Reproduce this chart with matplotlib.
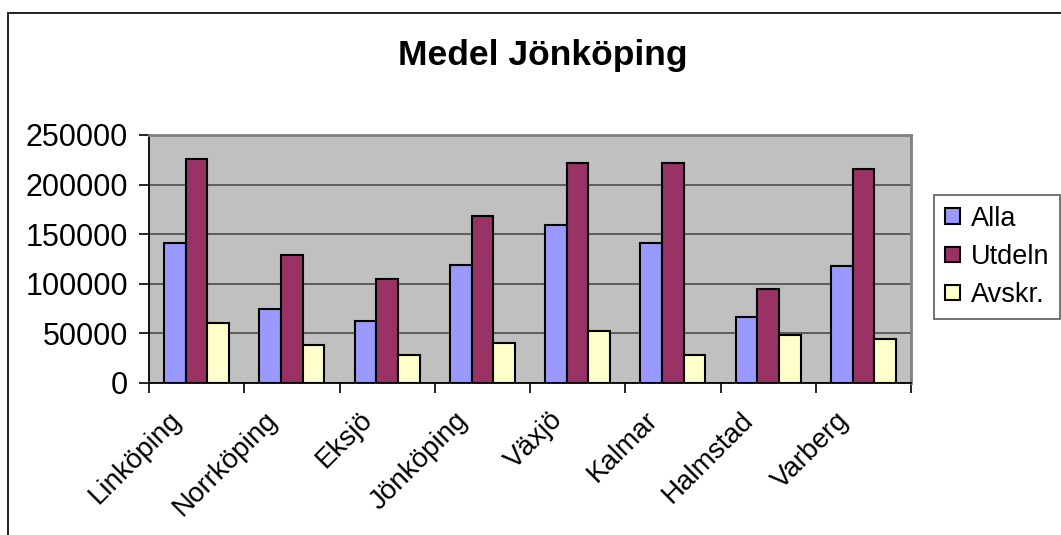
import matplotlib
matplotlib.use("Agg")
import matplotlib.pyplot as plt
import matplotlib.transforms as mtransforms
from matplotlib.patches import Rectangle
import numpy as np

plt.rcParams['font.family'] = ['Liberation Sans', 'DejaVu Sans']

categories = ["Linköping", "Norrköping", "Eksjö", "Jönköping", "Växjö", "Kalmar", "Halmstad", "Varberg"]
alla = [141000, 75000, 63000, 119000, 159500, 141000, 66500, 117500]
utdeln = [226000, 129000, 105000, 168000, 222000, 222000, 95000, 216000]
avskr = [60500, 38500, 28000, 40500, 52500, 28000, 48500, 44500]
series_names = ["Alla", "Utdeln", "Avskr."]
series_colors = ["#9999FF", "#993366", "#FFFFCC"]
yticks = [0, 50000, 100000, 150000, 200000, 250000]
title = "Medel Jönköping"

W, H = 1061, 535
fig = plt.figure(figsize=(W / 100, H / 100), dpi=100)
fig.patch.set_facecolor("white")

# outer chart border (only top & left visible)
fig.add_artist(Rectangle((8 / W, -0.5), 2.0, 1.5 - 12.5 / H, transform=fig.transFigure,
                         fill=False, edgecolor="#222222", linewidth=1.4))

ax = fig.add_axes([149 / W, 1 - 383 / H, (911 - 149) / W, (383 - 135) / H])
ax.set_facecolor("#C0C0C0")

x = np.arange(len(categories))
bw = 0.227
for i, (vals, name, col) in enumerate(zip([alla, utdeln, avskr], series_names, series_colors)):
    ax.bar(x + (i - 1) * bw, vals, width=bw, color=col, edgecolor="black",
           linewidth=1.5, label=name, zorder=3)

ax.set_xlim(-0.5, len(categories) - 0.5)
ax.set_ylim(0, 250000)
ax.set_yticks(yticks)
ax.set_yticklabels([str(v) for v in yticks])
ax.yaxis.grid(True, color="#555555", linewidth=1.3, zorder=1)
ax.set_axisbelow(True)

ax.set_xticks(np.arange(len(categories) + 1) - 0.5)
ax.set_xticklabels([])
ax.tick_params(axis="x", which="major", direction="out", length=7, width=1.2, color="black")
ax.tick_params(axis="y", direction="out", length=7, width=1.2, color="black",
               labelsize=22, pad=8)

# category labels, rotated 45 degrees, placed under each category
base = ax.get_xaxis_transform()
offset = mtransforms.ScaledTranslation(-28 / 100, -24 / 100, fig.dpi_scale_trans)
for xi, cat in zip(x, categories):
    ax.text(xi, 0, cat, transform=base + offset, rotation=45, ha="right", va="top",
            rotation_mode="anchor", fontsize=20, clip_on=False)

for s in ["left", "bottom"]:
    ax.spines[s].set_color("black")
    ax.spines[s].set_linewidth(1.3)
for s in ["top", "right"]:
    ax.spines[s].set_color("#808080")
    ax.spines[s].set_linewidth(2)

fig.text(543 / W, 1 - 55 / H, title, ha="center", va="center", fontsize=25.5, fontweight="bold")

leg = ax.legend(loc="upper left", bbox_to_anchor=(934 / W, 1 - 195 / H),
                bbox_transform=fig.transFigure, borderaxespad=0, fontsize=19.5,
                frameon=True, fancybox=False, handlelength=0.55, handleheight=0.5,
                handletextpad=0.4, labelspacing=0.45, borderpad=0.4)
leg.get_frame().set_edgecolor("#333333")
leg.get_frame().set_linewidth(1.2)

fig.savefig("out.png", dpi=100)
